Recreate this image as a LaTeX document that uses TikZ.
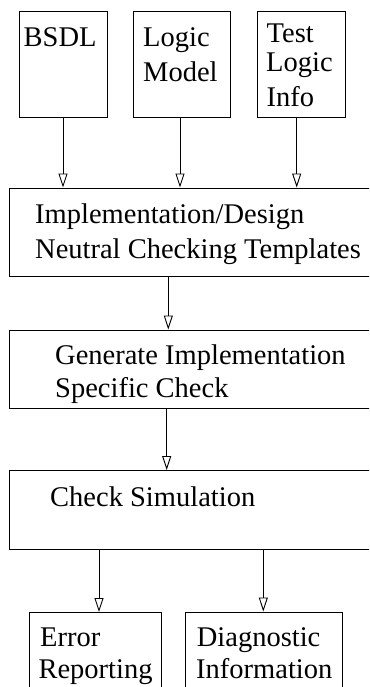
\documentclass[tikz,border=0pt]{standalone}
\usepackage{fontspec}
\setmainfont{Liberation Serif}
\usetikzlibrary{arrows.meta}

\begin{document}
\begin{tikzpicture}[x=1pt,y=-1pt,
    box/.style={draw, line width=0.9pt, inner sep=0pt, anchor=north west},
    txt/.style={anchor=base west, inner sep=0pt, font=\fontsize{28.5}{30}\selectfont},
    arr/.style={-{Triangle[open,length=14pt,width=9pt]}, line width=0.9pt}]
    \clip (0,0) rectangle (369,687);

    % Inputs
    \node[box, minimum width=88, minimum height=105.5] (bsdl) at (18.5,11.5) {};
    \node[box, minimum width=97, minimum height=105.5] (logic) at (132.5,11.5) {};
    \node[box, minimum width=88.5, minimum height=105.5] (test) at (256.5,11.5) {};
    \node[txt] (bsdlA) at (23.5,47) {BSDL};
    \node[txt] (logicA) at (143,46.7) {Logic};
    \node[txt] (logicB) at (143,81.7) {Model};
    \node[txt] (testA) at (266.5,43) {Test};
    \node[txt] (testB) at (266,71.7) {Logic};
    \node[txt] (testC) at (266.5,106.7) {Info};

    % Steps
    \node[box, minimum width=362, minimum height=88.5] (tmpl) at (9,187.5) {};
    \node[txt] (tmplA) at (35,223.3) {Implementation/Design};
    \node[txt] (tmplB) at (35,258.3) {Neutral Checking Templates};
    \node[box, minimum width=362, minimum height=78] (gen) at (9,329.5) {};
    \node[txt] (genA) at (55,364.5) {Generate Implementation};
    \node[txt] (genB) at (55,397) {Specific Check};
    \node[box, minimum width=362, minimum height=78.5] (sim) at (9,470) {};
    \node[txt] (simA) at (50,506.7) {Check Simulation};

    % Outputs
    \node[box, minimum width=132, minimum height=80] (err) at (29,612) {};
    \node[txt] (errA) at (40,646.7) {Error};
    \node[txt] (errB) at (38.3,678.3) {Reporting};
    \node[box, minimum width=157, minimum height=80] (diag) at (185,611.5) {};
    \node[txt] (diagA) at (196.7,646.7) {Diagnostic};
    \node[txt] (diagB) at (196,678.3) {Information};

    % Arrows
    \draw[arr] (bsdl.south -| 63,0) -- (tmpl.north -| 63,0);
    \draw[arr] (logic.south -| 180,0) -- (tmpl.north -| 180,0);
    \draw[arr] (test.south -| 296.7,0) -- (tmpl.north -| 296.7,0);
    \draw[arr] (tmpl.south -| 168.3,0) -- (gen.north -| 168.3,0);
    \draw[arr] (gen.south -| 166.7,0) -- (sim.north -| 166.7,0);
    \draw[arr] (sim.south -| 99,0) -- (err.north -| 99,0);
    \draw[arr] (sim.south -| 263.3,0) -- (diag.north -| 263.3,0);
\end{tikzpicture}
\end{document}
